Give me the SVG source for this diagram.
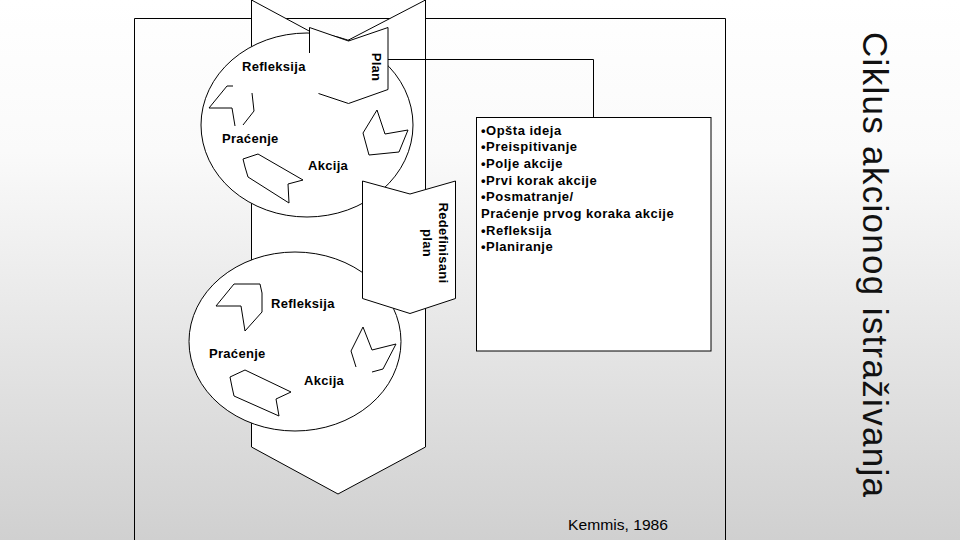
<svg xmlns="http://www.w3.org/2000/svg" width="960" height="540" viewBox="0 0 960 540">
<defs>
<linearGradient id="bg" x1="0" y1="0" x2="0" y2="540" gradientUnits="userSpaceOnUse">
<stop offset="0" stop-color="#ffffff"/>
<stop offset="0.28" stop-color="#fafafa"/>
<stop offset="1" stop-color="#d0d0d0"/>
</linearGradient>
<style>
.ln{fill:none;stroke:#000;stroke-width:1}
.sh{fill:#fff;stroke:#000;stroke-width:1}
.fw{fill:#fff;stroke:none}
.lbl{font-family:"Liberation Sans",Arial,sans-serif;font-weight:bold;font-size:13px;letter-spacing:0.3px;fill:#000}
.tb{font-family:"Liberation Sans",Arial,sans-serif;font-weight:bold;font-size:13px;letter-spacing:0.5px;fill:#000}
.rot{text-anchor:middle}
</style>
</defs>
<rect width="960" height="540" fill="url(#bg)"/>

<g id="frame"><polyline class="ln" points="134.5,541 134.5,18.5 725.5,18.5 725.5,541"/></g>

<g id="cycle-band"><polygon class="sh" points="251.5,0 337,46 425.5,0 425.5,447 338,494 251.5,447"/></g>

<g id="cycle-1">
<ellipse class="sh" cx="307" cy="125" rx="106" ry="92"/>
<polyline class="ln" points="233,86 227,86 209,108 232,108 235,126"/>
<polyline class="ln" points="252,93 254,111 243,125"/>
<polygon class="ln" points="377,110 363,133 369,155 399,152 408,130 385,134"/>
<polygon class="ln" points="243,159 258,154 303,180 288,184 289,203 248,177 245,167"/>
<text class="lbl" x="242" y="71">Refleksija</text>
<text class="lbl" x="222" y="143">Praćenje</text>
<text class="lbl" x="308" y="170">Akcija</text>
</g>

<g id="cycle-2">
<ellipse class="sh" cx="295" cy="341.5" rx="106" ry="89.5"/>
<polygon class="ln" points="234,284 260,284 262,293 262,312 245,331 241,306 216,306"/>
<polyline class="ln" points="363,327 351,351 356,367"/>
<polyline class="ln" points="372,372 383,369 396,344 372,350 363,327"/>
<polygon class="ln" points="230,377 245,370 291,392 276,399 279,416 234,396 232,387"/>
<text class="lbl" x="271" y="308">Refleksija</text>
<text class="lbl" x="209" y="358">Praćenje</text>
<text class="lbl" x="304" y="385">Akcija</text>
</g>

<g id="plan">
<polygon class="fw" points="309.5,27.5 348.5,41 388,27.5 388,89.5 348.5,103.5 318.5,93.5 309.5,53"/>
<polyline class="ln" points="309.5,53 309.5,27.5 348.5,41 388,27.5 388,89.5 348.5,103.5 318.5,93.5"/>
<text class="lbl rot" transform="translate(371.5,67) rotate(90)">Plan</text>
</g>

<g id="redefinisani-plan">
<polygon class="sh" points="362.5,181 410,194 455.5,181 455.5,298.5 410,313.5 362.5,298.5"/>
<text class="lbl rot" transform="translate(438.5,243) rotate(90)">Redefinisani</text>
<text class="lbl rot" transform="translate(422.5,243) rotate(90)">plan</text>
</g>

<g id="connectors">
<polyline class="ln" points="388,59.5 593.5,59.5 593.5,117.5"/>
</g>

<g id="steps">
<rect class="sh" x="476.5" y="117.5" width="234.5" height="233.5"/>
<text class="tb" x="481" y="134.5">•Opšta ideja</text>
<text class="tb" x="481" y="151.2">•Preispitivanje</text>
<text class="tb" x="481" y="167.9">•Polje akcije</text>
<text class="tb" x="481" y="184.6">•Prvi korak akcije</text>
<text class="tb" x="481" y="201.3">•Posmatranje/</text>
<text class="tb" x="481" y="218">Praćenje prvog koraka akcije</text>
<text class="tb" x="481" y="234.7">•Refleksija</text>
<text class="tb" x="481" y="251.4">•Planiranje</text>
</g>

<g id="title">
<text transform="translate(863,32) rotate(90)" font-family="'Liberation Sans',Arial,sans-serif" font-size="35" fill="#111" textLength="465" lengthAdjust="spacing">Ciklus akcionog istraživanja</text>
</g>

<g id="source">
<text x="568" y="530" font-family="'Liberation Sans',Arial,sans-serif" font-size="15" fill="#000" textLength="100" lengthAdjust="spacingAndGlyphs">Kemmis, 1986</text>
</g>
</svg>
